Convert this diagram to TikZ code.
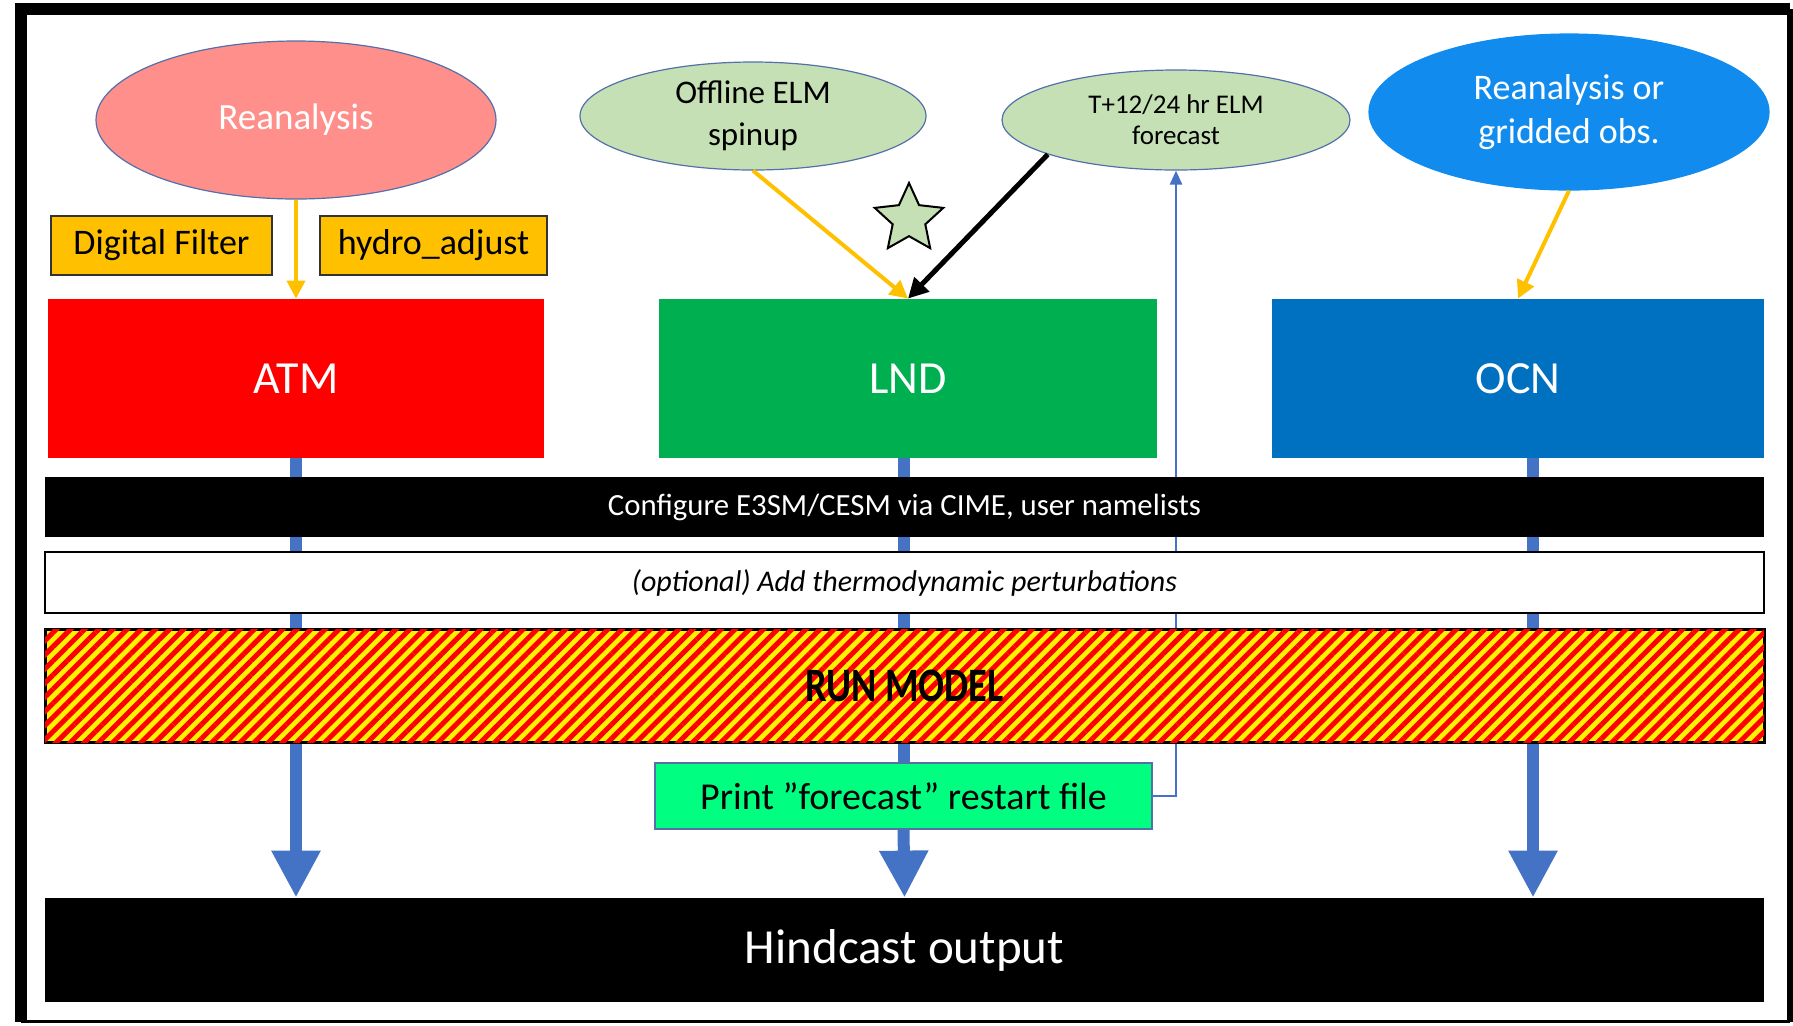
\documentclass[tikz,border=0pt]{standalone}
\usepackage{fontspec}
\setmainfont{Carlito}
\usetikzlibrary{shapes.geometric,arrows.meta,patterns.meta}

\definecolor{reanpink}{RGB}{255,143,138}
\definecolor{sage}{RGB}{197,224,180}
\definecolor{skyblue}{RGB}{17,140,238}
\definecolor{amber}{RGB}{255,192,0}
\definecolor{lndgreen}{RGB}{0,176,80}
\definecolor{ocnblue}{RGB}{0,112,192}
\definecolor{flowblue}{RGB}{68,114,196}
\definecolor{mint}{RGB}{0,255,128}
\definecolor{rimblue}{RGB}{84,112,170}

\begin{document}
\begin{tikzpicture}[x=0.5pt,y=-0.5pt,
    src/.style={ellipse, draw=rimblue, line width=0.6pt, inner sep=0pt, align=center},
    filt/.style={draw=black!80, line width=0.6pt, fill=amber, minimum height=29.5pt,
        font=\fontsize{18}{20}\selectfont},
    comp/.style={minimum height=79.5pt, text=white, font=\fontsize{23}{25}\selectfont},
    bar/.style={minimum width=859.5pt, inner sep=0pt},
    col/.style={flowblue, line width=6pt, -{Triangle[width=23pt,length=23.5pt]}},
    feed/.style={amber, line width=2pt, -{Triangle[width=9pt,length=9pt]}}]
    \useasboundingbox (0,0) rectangle (1793,1025);

    % frame of the slide
    \draw[line width=6pt] (21,1021.5) -- (21,9) -- (1790,9);
    \draw[line width=3pt] (1790,9) -- (1790,1021.5);
    \draw[line width=1.5pt] (21,1021.5) -- (1790,1021.5);

    % input data sources
    \node[src, fill=reanpink, minimum width=200pt, minimum height=79pt, text=white,
        font=\fontsize{18.5}{20}\selectfont] (rean) at (296,120) {Reanalysis};
    \node[src, fill=sage, minimum width=173pt, minimum height=54pt,
        font=\fontsize{16.5}{21}\selectfont] (spin) at (753,116) {Offline ELM\\spinup};
    \node[src, fill=sage, minimum width=174pt, minimum height=50pt,
        font=\fontsize{13.5}{15.5}\selectfont] (fcst) at (1176,120) {T+12/24 hr ELM\\forecast};
    \node[src, fill=skyblue, draw=skyblue, minimum width=200pt, minimum height=78pt, text=white,
        font=\fontsize{18}{22}\selectfont] (obs) at (1569,112) {Reanalysis or\\gridded obs.};

    \node[filt, minimum width=110.5pt] (dfilt) at (161.5,245.5) {Digital Filter};
    \node[filt, minimum width=113.5pt] (hadj) at (433.5,245.5) {hydro\_adjust};
    \node[star, star points=5, star point ratio=2.1, draw, fill=sage, line width=1pt,
        minimum size=36pt, inner sep=0pt] (fav) at (909,219) {};

    % model components
    \node[comp, fill=red, minimum width=248pt] (atm) at (296,378.5) {ATM};
    \node[comp, fill=lndgreen, minimum width=249pt] (lnd) at (908,378.5) {LND};
    \node[comp, fill=ocnblue, minimum width=246pt] (ocn) at (1518,378.5) {OCN};

    \node[draw=rimblue, line width=0.6pt, fill=mint, minimum width=248.5pt, minimum height=33pt,
        font=\fontsize{19}{21}\selectfont] (print) at (903.5,796) {Print ”forecast” restart file};
    \node[bar, fill=black, minimum height=52pt, text=white,
        font=\fontsize{24.5}{26}\selectfont] (hind) at (904.5,950) {Hindcast output};

    % flow of each component down to the output
    \draw[col] (atm.south) -- (atm.south |- hind.north);
    \draw[flowblue, line width=6pt] (print.north |- lnd.south) -- (print.north);
    \draw[col] (print.south) -- (hind.north);
    \draw[col] ([xshift=7.5pt]ocn.south) -- ([xshift=7.5pt]ocn.south |- hind.north);
    \draw[flowblue, line width=1.25pt, -{Triangle[width=6pt,length=7pt]}] (print.east) -| (fcst.south);

    % workflow steps
    \node[bar, fill=black, minimum height=30pt, text=white,
        font=\fontsize{15.4}{17}\selectfont] (cfg) at (904.5,507) {Configure E3SM/CESM via CIME, user namelists};
    \node[bar, draw, line width=1pt, fill=white, minimum height=30.5pt,
        font=\fontsize{15}{17}\selectfont\itshape] (pert) at (904.5,582.5) {(optional) Add thermodynamic perturbations};
    \node[bar, draw, line width=1.5pt, fill=yellow,
        postaction={pattern={Lines[angle=45,distance=5pt,line width=2.5pt]}, pattern color=red},
        minimum height=56.5pt, font=\fontsize{24}{26}\selectfont\bfseries] (run) at (904.5,686) {\scalebox{0.8}[1]{RUN MODEL}};

    \draw[feed] (rean.south) -- (atm.north);
    \draw[feed] (spin.south) -- (lnd.north);
    \draw[feed] (obs.south) -- (ocn.north);
    \draw[black, line width=2.5pt, -{Triangle[width=10pt,length=10pt]}] (fcst.195) -- (lnd.north);
\end{tikzpicture}
\end{document}
